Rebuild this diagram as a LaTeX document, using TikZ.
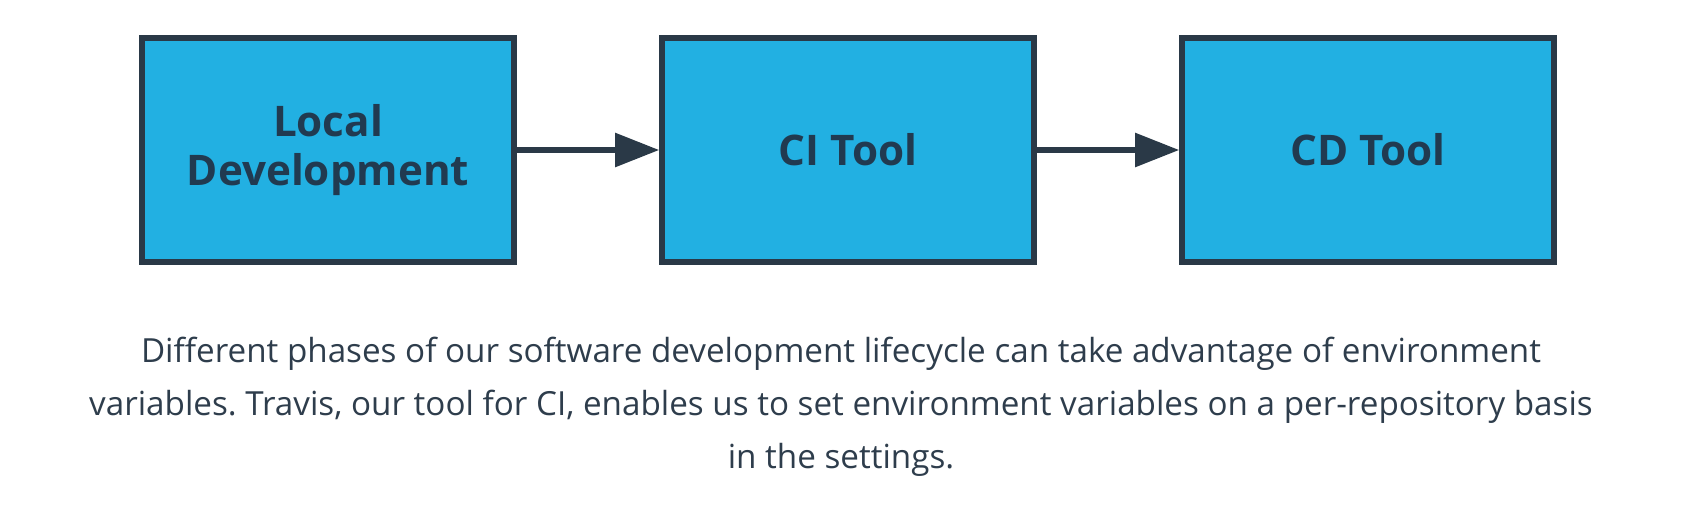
\documentclass[tikz,border=0pt]{standalone}
\usepackage{fontspec}
\setmainfont{Open Sans}
\frenchspacing
\usetikzlibrary{arrows.meta, positioning}
\definecolor{boxfill}{HTML}{22B0E2}
\definecolor{boxline}{HTML}{2A3947}
\definecolor{boxtext}{HTML}{213A50}
\definecolor{captext}{HTML}{2E3D4C}

\begin{document}
\begin{tikzpicture}[
    node distance=5.2cm,
    on grid,
    phase/.style={draw=boxline, fill=boxfill, line width=1.6pt, minimum width=3.72cm, minimum height=2.24cm, align=center, text=boxtext, font=\fontsize{12}{13.8}\selectfont\bfseries},
    every edge/.append style={line width=1.6pt, draw=boxline, >={Triangle[length=0.44cm, width=0.33cm]}}
]
   \useasboundingbox (0,0) rectangle (17.08,5.30);

   % Phases
   \node[phase] (dev) at (3.28,3.80) {Local\\Development};
   \node[phase] (ci) [right=of dev] {CI Tool};
   \node[phase] (cd) [right=of ci] {CD Tool};

   % Flow
   \path[->]
   (dev) edge (ci)
   (ci) edge (cd);

   % Caption
   \node[align=center, inner sep=0pt, anchor=north, text=captext, font=\fontsize{9.45}{15.2}\selectfont] (caption) at (8.41,1.94)
   {Different phases of our software development lifecycle can take advantage of environment\\
    variables. Travis, our tool for CI, enables us to set environment variables on a per-repository basis\\
    in the settings.};
\end{tikzpicture}
\end{document}
